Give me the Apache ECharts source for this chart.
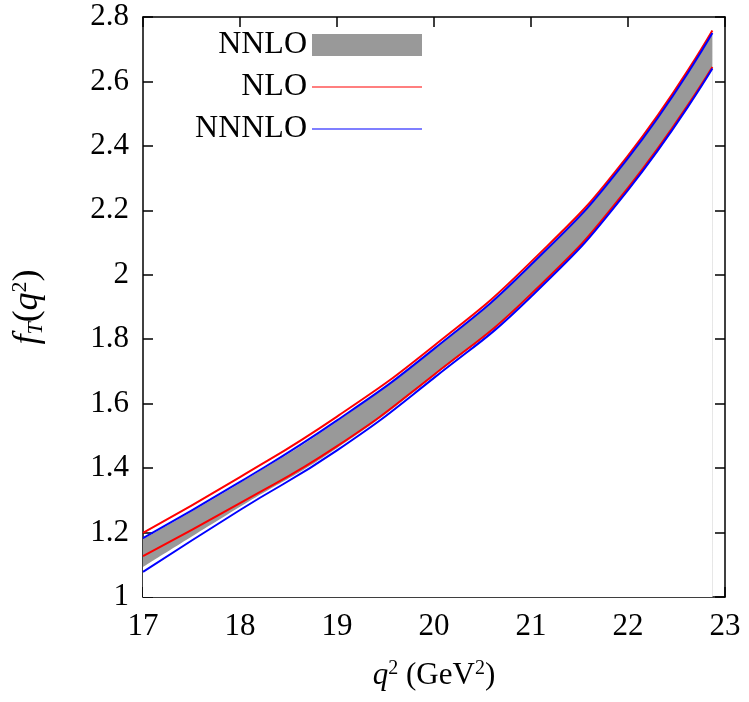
<!DOCTYPE html>
<html>
<head>
<meta charset="utf-8">
<script src="https://cdn.jsdelivr.net/npm/echarts@6/dist/echarts.min.js"></script>
<style>html,body{margin:0;padding:0;background:#fff}#main{width:749px;height:702px}</style>
</head>
<body>
<div id="main"></div>
<script>
// q^2 points (GeV^2)
var q2 = [17, 18, 19, 20, 21, 22, 22.87];
// NLO lines
var nloUp = [1.199, 1.372, 1.56, 1.78, 2.04, 2.37, 2.758];
var nloLo = [1.127, 1.291, 1.468, 1.69, 1.94, 2.27, 2.645];
// NNNLO lines
var nnnloUp = [1.183, 1.357, 1.548, 1.77, 2.031, 2.362, 2.75];
var nnnloLo = [1.078, 1.27, 1.455, 1.68, 1.932, 2.263, 2.64];
// NNLO band
var nnloTop = [1.18, 1.354, 1.545, 1.767, 2.028, 2.359, 2.748];
var nnloBot = [1.093, 1.28, 1.462, 1.686, 1.937, 2.267, 2.643];
var xTicks = [17, 18, 19, 20, 21, 22, 23];
var yTicks = [1, 1.2, 1.4, 1.6, 1.8, 2, 2.2, 2.4, 2.6, 2.8];

function pts(ys) { return q2.map(function (x, i) { return [x, ys[i]]; }); }

var font = 'Liberation Serif';
var chart = echarts.init(document.getElementById('main'));
var axLine = { lineStyle: { color: '#000', width: 1.5 } };
var tick = { inside: true, length: 10, lineStyle: { color: '#000', width: 1.5 } };
chart.setOption({
  animation: false,
  grid: { left: 143, right: 24, top: 17, bottom: 105 },
  legend: {
    orient: 'vertical', right: 322, top: 24, align: 'right',
    itemWidth: 110, itemHeight: 22, itemGap: 10,
    textStyle: { fontFamily: font, fontSize: 32, color: '#000' },
    data: [
      { name: 'NNLO', icon: 'rect', itemStyle: { color: '#999' } },
      { name: 'NLO', icon: 'path://M0,10L100,10L100,11L0,11Z' },
      { name: 'NNNLO', icon: 'path://M0,10L100,10L100,11L0,11Z' }
    ]
  },
  xAxis: [{
    type: 'value', min: 17, max: 23, interval: 1,
    axisLine: axLine, axisTick: tick, splitLine: { show: false },
    axisLabel: { fontFamily: font, fontSize: 31, color: '#000', margin: 14 },
    name: '{i|q}{s|2} (GeV{s|2})', nameLocation: 'middle', nameGap: 62,
    nameTextStyle: { fontFamily: font, fontSize: 31, color: '#000',
      rich: { i: { fontFamily: font, fontStyle: 'italic', fontSize: 31 }, s: { fontSize: 20, verticalAlign: 'top', padding: [0, 0, 14, 0] } } }
  }, {
    type: 'value', position: 'top', min: 17, max: 23, interval: 1,
    axisLine: axLine, axisTick: tick, axisLabel: { show: false }, splitLine: { show: false }
  }],
  yAxis: [{
    type: 'value', min: 1, max: 2.8, interval: 0.2,
    axisLine: axLine, axisTick: tick, splitLine: { show: false },
    axisLabel: { fontFamily: font, fontSize: 31, color: '#000', margin: 14,
      formatter: function (v) { return String(Math.round(v * 10) / 10); } },
    name: '{i|f}{s|T}({i|q}{u|2})', nameLocation: 'middle', nameGap: 96, nameRotate: 90,
    nameTextStyle: { fontFamily: font, fontSize: 36, color: '#000',
      rich: { i: { fontFamily: font, fontStyle: 'italic', fontSize: 36 },
        s: { fontFamily: font, fontStyle: 'italic', fontSize: 22, verticalAlign: 'bottom', padding: [16, 0, 0, 0] },
        u: { fontSize: 22, verticalAlign: 'top', padding: [0, 0, 16, 0] } } }
  }, {
    type: 'value', position: 'right', min: 1, max: 2.8, interval: 0.2,
    axisLine: axLine, axisTick: tick, axisLabel: { show: false }, splitLine: { show: false }
  }],
  series: [
    { name: 'NNLO', type: 'line', smooth: true, symbol: 'none', data: pts(nnloTop), z: 1,
      lineStyle: { width: 0 }, areaStyle: { color: '#999', opacity: 1, origin: 'start' }, itemStyle: { color: '#999' } },
    { name: 'base', type: 'line', smooth: true, symbol: 'none', data: pts(nnloBot), z: 1.5,
      lineStyle: { width: 0 }, areaStyle: { color: '#fff', opacity: 1, origin: 'start' }, silent: true },
    { name: 'NLO', type: 'line', smooth: true, symbol: 'none', data: pts(nloUp), color: '#f00', lineStyle: { width: 2 }, z: 3 },
    { name: 'NLO', type: 'line', smooth: true, symbol: 'none', data: pts(nloLo), color: '#f00', lineStyle: { width: 2 }, z: 3 },
    { name: 'NNNLO', type: 'line', smooth: true, symbol: 'none', data: pts(nnnloUp), color: '#00f', lineStyle: { width: 2 }, z: 3 },
    { name: 'NNNLO', type: 'line', smooth: true, symbol: 'none', data: pts(nnnloLo), color: '#00f', lineStyle: { width: 2 }, z: 3 }
  ]
});
</script>
</body>
</html>
